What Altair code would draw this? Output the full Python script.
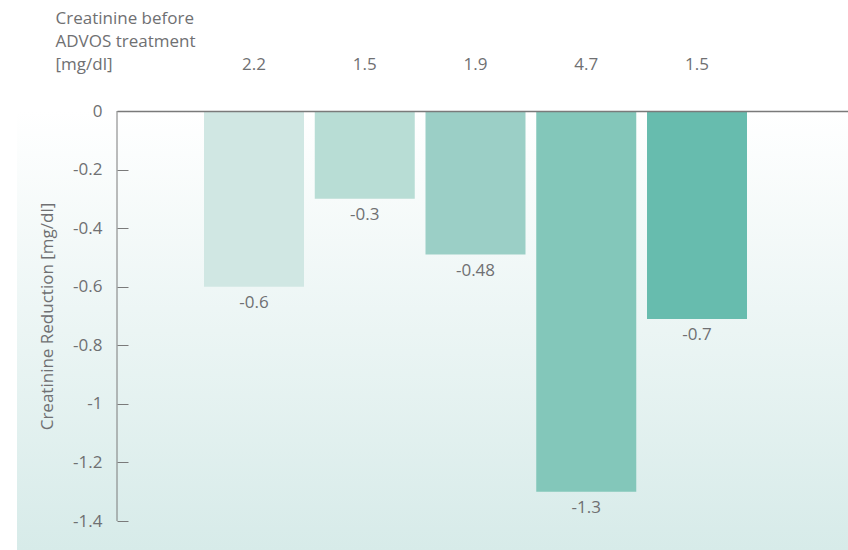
import altair as alt
import pandas as pd

# ---- data ----
patients = ["P1", "P2", "P3", "P4", "P5"]
creat_before = ["2.2", "1.5", "1.9", "4.7", "1.5"]
reduction = [-0.6, -0.3, -0.49, -1.3, -0.71]
reduction_labels = ["-0.6", "-0.3", "-0.48", "-1.3", "-0.7"]
bar_colors = ["#d0e7e3", "#b8ddd5", "#9bcfc6", "#83c7ba", "#67bcae"]
y_ticks = [0, -0.2, -0.4, -0.6, -0.8, -1, -1.2, -1.4]
header_title = ["Creatinine before", "ADVOS treatment", "[mg/dl]"]

W, H = 731, 410
GRAY = "#6f7072"
AXIS_GRAY = "#7a7a7a"
FONT = "Open Sans"
FS = 17

df = pd.DataFrame({
    "patient": patients,
    "before": creat_before,
    "reduction": reduction,
    "label": reduction_labels,
})

xscale = alt.Scale(domain=patients, paddingInner=0.097, paddingOuter=0.8487, align=0.4628)
yscale = alt.Scale(domain=[-1.4, 0], nice=False, zero=False)

x_enc = alt.X(
    "patient:N", scale=xscale,
    axis=alt.Axis(
        orient="top", labels=False, ticks=False, domain=True, zindex=1,
        domainColor=AXIS_GRAY, domainWidth=1.3,
        title=header_title, titleFont=FONT, titleFontSize=FS, titleFontWeight="normal",
        titleColor=GRAY, titleAlign="left", titleBaseline="top", titleAnchor="start",
        titleX=-62, titleY=-101, titleLineHeight=23, titleAngle=0,
    ),
)

base = alt.Chart(df)

background = alt.Chart(alt.Data(values=[{}])).mark_rect(
    color=alt.LinearGradient(
        gradient="linear",
        stops=[alt.GradientStop(color="#ffffff", offset=0),
               alt.GradientStop(color="#d7ebe9", offset=1)],
        x1=0, x2=0, y1=0, y2=1,
    )
).encode(
    x=alt.value(-100), x2=alt.value(W), y=alt.value(0), y2=alt.value(H + 29)
)

bars = base.mark_bar(size=100).encode(
    x=x_enc,
    y=alt.Y(
        "reduction:Q", scale=yscale,
        axis=alt.Axis(
            values=y_ticks, labelExpr="'' + datum.value", orient="left", offset=-11,
            tickSize=11, tickColor=AXIS_GRAY, tickWidth=1, domain=False, grid=False, zindex=1,
            labelPadding=15, labelFont=FONT, labelFontSize=FS, labelColor=GRAY,
            title="Creatinine Reduction [mg/dl]", titleFont=FONT, titleFontSize=FS,
            titleFontWeight="normal", titleColor=GRAY, titlePadding=16,
        ),
    ),
    y2=alt.datum(0),
    color=alt.Color("patient:N", scale=alt.Scale(domain=patients, range=bar_colors), legend=None),
)

bar_labels = base.mark_text(
    baseline="top", dy=8, font=FONT, fontSize=FS, color=GRAY
).encode(
    x=alt.X("patient:N", scale=xscale),
    y=alt.Y("reduction:Q", scale=yscale),
    text="label:N",
)

header_vals = base.mark_text(
    baseline="middle", font=FONT, fontSize=FS, color=GRAY
).encode(
    x=alt.X("patient:N", scale=xscale),
    y=alt.value(-46),
    text="before:N",
)

y_domain = alt.Chart(alt.Data(values=[{}])).mark_rule(color=AXIS_GRAY, strokeWidth=1).encode(
    x=alt.value(0),
    y=alt.datum(0, scale=yscale),
    y2=alt.datum(-1.4),
)

chart = alt.layer(background, bars, bar_labels, header_vals, y_domain).properties(
    width=W, height=H,
    autosize=alt.AutoSizeParams(type="none"),
    padding={"left": 117, "top": 111, "right": 0, "bottom": 29},
    background="white",
).configure_view(stroke=None).configure(font=FONT)

chart.save("out.html", embed_options={"renderer": "svg", "actions": False})
